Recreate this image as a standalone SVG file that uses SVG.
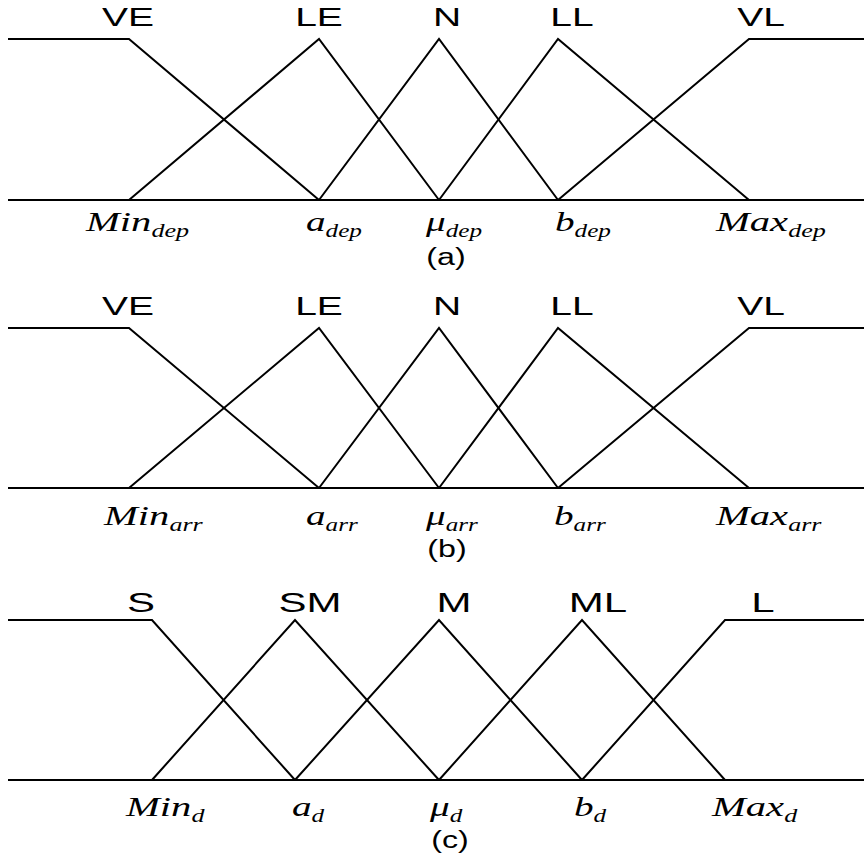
<svg xmlns="http://www.w3.org/2000/svg" width="864" height="865" viewBox="0 0 864 865">
<style>
.mf{fill:none;stroke:#000;stroke-width:2;stroke-linejoin:miter}
.lab{font-family:"Liberation Sans",Arial,sans-serif;font-size:26px;fill:#000;text-anchor:middle}
.labc{font-family:"Liberation Sans",Arial,sans-serif;font-size:28px;fill:#000;text-anchor:middle}
.cap{font-family:"Liberation Sans",Arial,sans-serif;font-size:23px;fill:#000;text-anchor:middle}
.it{font-family:"Liberation Serif","Times New Roman",serif;font-style:italic;font-size:28px;fill:#000}
.sub{font-size:18px}
</style>
<rect width="864" height="865" fill="#fff"/>
<!-- Panel (a) -->
<g id="panel-a">
  <g id="a-axis"><path class="mf" d="M8,200 H864"/></g>
  <g id="a-VE"><path class="mf" d="M8,39 H129 L319,200"/><text class="lab" transform="translate(128,26) scale(1.5,1)">VE</text></g>
  <g id="a-LE"><path class="mf" d="M129,200 L319,39 L439,200"/><text class="lab" transform="translate(319,26) scale(1.5,1)">LE</text></g>
  <g id="a-N"><path class="mf" d="M319,200 L439,39 L558,200"/><text class="lab" transform="translate(447,26) scale(1.5,1)">N</text></g>
  <g id="a-LL"><path class="mf" d="M439,200 L558,39 L749,200"/><text class="lab" transform="translate(572,26) scale(1.5,1)">LL</text></g>
  <g id="a-VL"><path class="mf" d="M558,200 L749,39 H864"/><text class="lab" transform="translate(761,26) scale(1.5,1)">VL</text></g>
  <text class="it" transform="translate(86,231) scale(1.45,1)">Min<tspan class="sub" dy="6">dep</tspan></text>
  <text class="it" transform="translate(306,231) scale(1.4,1)">a<tspan class="sub" dy="6">dep</tspan></text>
  <text class="it" transform="translate(426,231) scale(1.4,1)">μ<tspan class="sub" dy="6">dep</tspan></text>
  <text class="it" transform="translate(555,231) scale(1.4,1)">b<tspan class="sub" dy="6">dep</tspan></text>
  <text class="it" transform="translate(716,231) scale(1.45,1)">Max<tspan class="sub" dy="6">dep</tspan></text>
  <text class="cap" transform="translate(446,265) scale(1.4,1)">(a)</text>
</g>
<!-- Panel (b) -->
<g id="panel-b">
  <g id="b-axis"><path class="mf" d="M8,488 H864"/></g>
  <g id="b-VE"><path class="mf" d="M8,328 H129 L319,488"/><text class="lab" transform="translate(128,315) scale(1.5,1)">VE</text></g>
  <g id="b-LE"><path class="mf" d="M129,488 L319,328 L439,488"/><text class="lab" transform="translate(319,315) scale(1.5,1)">LE</text></g>
  <g id="b-N"><path class="mf" d="M319,488 L439,328 L558,488"/><text class="lab" transform="translate(447,315) scale(1.5,1)">N</text></g>
  <g id="b-LL"><path class="mf" d="M439,488 L558,328 L749,488"/><text class="lab" transform="translate(572,315) scale(1.5,1)">LL</text></g>
  <g id="b-VL"><path class="mf" d="M558,488 L749,328 H864"/><text class="lab" transform="translate(761,315) scale(1.5,1)">VL</text></g>
  <text class="it" transform="translate(104,525) scale(1.45,1)">Min<tspan class="sub" dy="6">arr</tspan></text>
  <text class="it" transform="translate(306,525) scale(1.4,1)">a<tspan class="sub" dy="6">arr</tspan></text>
  <text class="it" transform="translate(426,525) scale(1.4,1)">μ<tspan class="sub" dy="6">arr</tspan></text>
  <text class="it" transform="translate(554,525) scale(1.4,1)">b<tspan class="sub" dy="6">arr</tspan></text>
  <text class="it" transform="translate(716,525) scale(1.45,1)">Max<tspan class="sub" dy="6">arr</tspan></text>
  <text class="cap" transform="translate(447,557) scale(1.4,1)">(b)</text>
</g>
<!-- Panel (c) -->
<g id="panel-c">
  <g id="c-axis"><path class="mf" d="M8,780 H864"/></g>
  <g id="c-S"><path class="mf" d="M8,620 H152 L295,780"/><text class="labc" transform="translate(141,612) scale(1.5,1)">S</text></g>
  <g id="c-SM"><path class="mf" d="M152,780 L295,620 L439,780"/><text class="labc" transform="translate(310,612) scale(1.5,1)">SM</text></g>
  <g id="c-M"><path class="mf" d="M295,780 L439,620 L582,780"/><text class="labc" transform="translate(454,612) scale(1.5,1)">M</text></g>
  <g id="c-ML"><path class="mf" d="M439,780 L582,620 L725,780"/><text class="labc" transform="translate(598,612) scale(1.5,1)">ML</text></g>
  <g id="c-L"><path class="mf" d="M582,780 L725,620 H864"/><text class="labc" transform="translate(763,612) scale(1.5,1)">L</text></g>
  <text class="it" transform="translate(126,816) scale(1.45,1)">Min<tspan class="sub" dy="6">d</tspan></text>
  <text class="it" transform="translate(292,816) scale(1.4,1)">a<tspan class="sub" dy="6">d</tspan></text>
  <text class="it" transform="translate(430,816) scale(1.4,1)">μ<tspan class="sub" dy="6">d</tspan></text>
  <text class="it" transform="translate(574,816) scale(1.4,1)">b<tspan class="sub" dy="6">d</tspan></text>
  <text class="it" transform="translate(712,816) scale(1.45,1)">Max<tspan class="sub" dy="6">d</tspan></text>
  <text class="cap" transform="translate(450,848) scale(1.4,1)">(c)</text>
</g>
</svg>
